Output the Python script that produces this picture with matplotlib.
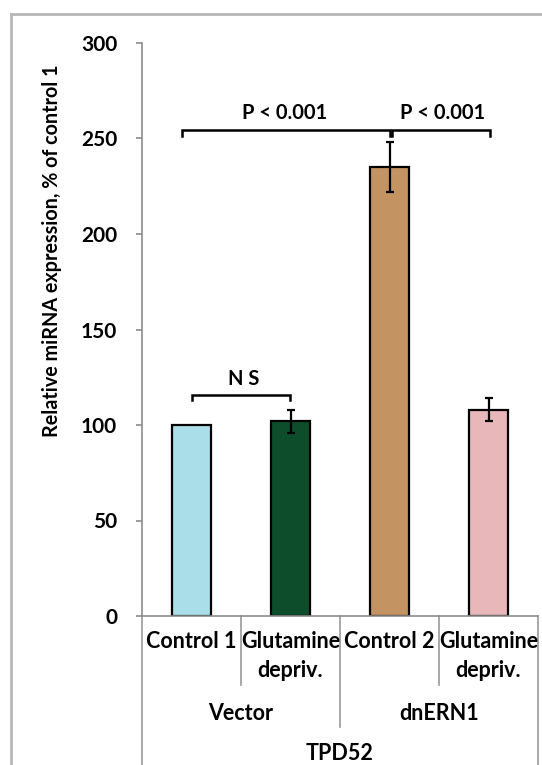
import matplotlib
matplotlib.use("Agg")
import matplotlib.pyplot as plt
from matplotlib.lines import Line2D
import matplotlib.transforms as mtransforms

# ---- data ----
categories = ["Control 1", "Glutamine\ndepriv.", "Control 2", "Glutamine\ndepriv."]
groups = ["Vector", "dnERN1"]
gene = "TPD52"
values = [100, 102, 235, 108]
errors = [0, 6, 13, 6]
bar_colors = ["#aadfe9", "#0d4d2b", "#c39462", "#e8b7ba"]
yticks = [0, 50, 100, 150, 200, 250, 300]
ylabel = "Relative miRNA expression, % of control 1"
brackets = [  # (x_start, x_end, y, label, label_x)
    (-0.1, 2.0, 254.5, "P < 0.001", 0.94),
    (2.03, 3.02, 254.5, "P < 0.001", 2.54),
    (0.0, 0.99, 115.5, "N S", 0.53),
]

W, H = 542, 765
fig = plt.figure(figsize=(W / 100, H / 100), dpi=100)
plt.rcParams['font.family'] = ['Lato', 'DejaVu Sans']

def fx(px):
    return px / W

def fy(py):
    return 1 - py / H

ax = fig.add_axes([fx(142), fy(616), fx(538) - fx(142), fy(43) - fy(616)])
x = list(range(len(values)))
ax.bar(x, values, width=0.4, color=bar_colors, edgecolor="black", linewidth=1.6, zorder=2)
ax.errorbar(x[1:], values[1:], yerr=errors[1:], fmt="none", ecolor="black",
            elinewidth=1.6, capsize=2.6, capthick=1.6, zorder=3)

ax.set_xlim(-0.5, 3.5)
ax.set_ylim(0, 300)
ax.set_yticks(yticks)
ax.set_yticklabels([str(t) for t in yticks], fontsize=15, fontweight="bold")
ax.set_xticks([])
for s in ["top", "right"]:
    ax.spines[s].set_visible(False)
for s in ["left", "bottom"]:
    ax.spines[s].set_color("#8c8c8c")
    ax.spines[s].set_linewidth(1.2)
ax.tick_params(axis="y", direction="out", length=4, width=1.2, color="#8c8c8c", pad=14)

# brackets
for x0, x1, yb, lab, lx in brackets:
    drop = 3.0 if lab != "N S" else 2.5
    ax.plot([x0, x0, x1, x1], [yb - drop, yb, yb, yb - drop], color="black", lw=1.8,
            solid_joinstyle="miter", zorder=4)
    ax.text(lx, yb + 3.5, lab, ha="center", va="bottom", fontsize=14.5, fontweight="bold")

# category labels
trans = mtransforms.blended_transform_factory(ax.transData, fig.transFigure)
for i, c in enumerate(categories):
    ax.text(i, fy(631), c, transform=trans, ha="center", va="top", fontsize=15.5,
            fontweight="bold", linespacing=1.45)
for g, gi in zip(groups, [0.5, 2.5]):
    ax.text(gi, fy(713), g, transform=trans, ha="center", va="center", fontsize=15.5,
            fontweight="bold")
ax.text(1.5, fy(754), gene, transform=trans, ha="center", va="center", fontsize=15.5,
        fontweight="bold")

sep_col = "#9a9a9a"
for xv, ybot in [(0.5, 685), (2.5, 685), (1.5, 727), (-0.5, H), (3.5, H)]:
    ax.add_line(Line2D([xv, xv], [fy(616), fy(ybot)], transform=trans, color=sep_col,
                       lw=1.2, clip_on=False))

# y label
fig.text(fx(52), fy(251), ylabel, rotation=90, ha="center", va="center",
         fontsize=14.2, fontweight="bold")

# outer border
fig.add_artist(Line2D([fx(11), 1], [fy(14), fy(14)], color="#b8b8b8", lw=2))
fig.add_artist(Line2D([fx(11), fx(11)], [fy(14), 0], color="#b8b8b8", lw=2))

fig.savefig("out.png", dpi=100)
